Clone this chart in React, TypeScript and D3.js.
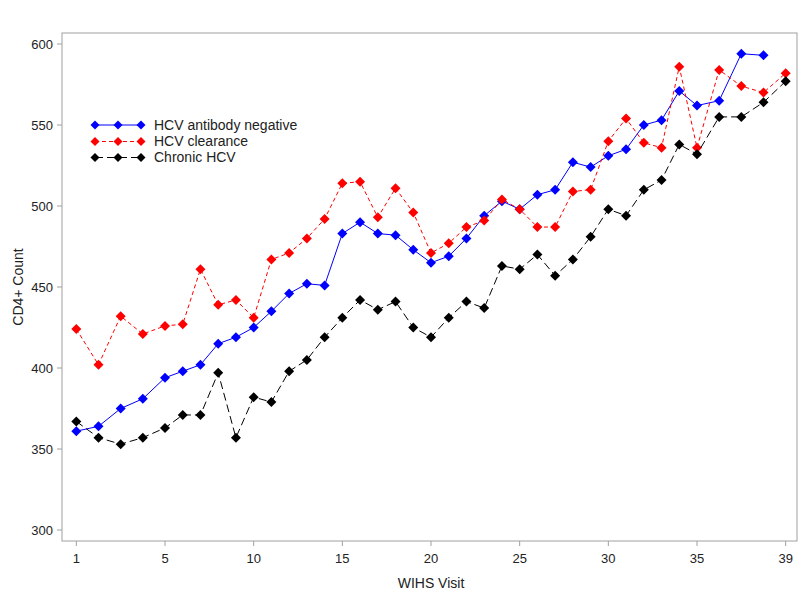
import React from "react";
import * as d3 from "d3";

const visits = [1,2,3,4,5,6,7,8,9,10,11,12,13,14,15,16,17,18,19,20,21,22,23,24,25,26,27,28,29,30,31,32,33,34,35,36,37,38,39];
const xTickValues = [1,5,10,15,20,25,30,35,39];
const yTickValues = [300,350,400,450,500,550,600];

const hcvNegative = [361,364,375,381,394,398,402,415,419,425,435,446,452,451,483,490,483,482,473,465,469,480,494,503,498,507,510,527,524,531,535,550,553,571,562,565,594,593];
const hcvClearance = [424,402,432,421,426,427,461,439,442,431,467,471,480,492,514,515,493,511,496,471,477,487,491,504,498,487,487,509,510,540,554,539,536,586,536,584,574,570,582];
const chronicHcv = [367,357,353,357,363,371,371,397,357,382,379,398,405,419,431,442,436,441,425,419,431,441,437,463,461,470,457,467,481,498,494,510,516,538,532,555,555,564,577];

const seriesNames = ["HCV antibody negative", "HCV clearance", "Chronic HCV"];
const seriesColors = ["#0000ff", "#ff0000", "#000000"];
const seriesDash = ["none", "4,3", "8,4"];

const FONT = "Liberation Sans, Arial, sans-serif";

export default function App() {
  const W = 800, H = 600;
  const left = 62, right = 797, top = 33, bottom = 541;
  const u = (697 - 165) / 30;
  // axis spreads visits 1-5 and 35-39 over the same width as 5 visits
  const x = d3.scaleLinear().domain([1, 5, 35, 39]).range([165 - 5 * u, 165, 697, 697 + 5 * u]);
  const y = d3.scaleLinear().domain([300, 600]).range([530, 44]);

  const all = [hcvNegative, hcvClearance, chronicHcv];
  const line = d3.line<number>().x((_, i) => x(visits[i])).y((d) => y(d));
  const diamond = (cx: number, cy: number, r = 5) =>
    `M${cx},${cy - r}L${cx + r},${cy}L${cx},${cy + r}L${cx - r},${cy}Z`;

  const legendX = [95, 118, 141];
  const legendY = [125, 141.5, 157.5];

  return (
    <svg width={W} height={H} style={{ display: "block", position: "absolute", left: 0, top: 0 }} fontFamily={FONT}>
      <rect x={0} y={0} width={W} height={H} fill="#fff" />
      <rect x={left} y={top} width={right - left} height={bottom - top} fill="none" stroke="#a0a0a0" strokeWidth={1} />
      {yTickValues.map((t) => (
        <g key={"y" + t}>
          <line x1={left - 5} x2={left} y1={y(t)} y2={y(t)} stroke="#a0a0a0" />
          <text x={left - 9} y={y(t)} dy="0.35em" textAnchor="end" fontSize={13} fill="#222">{t}</text>
        </g>
      ))}
      {xTickValues.map((t) => (
        <g key={"x" + t}>
          <line x1={x(t)} x2={x(t)} y1={bottom} y2={bottom + 5} stroke="#a0a0a0" />
          <text x={x(t)} y={bottom + 17} dy="0.35em" textAnchor="middle" fontSize={13} fill="#222">{t}</text>
        </g>
      ))}
      <text x={431} y={583} dy="0.35em" textAnchor="middle" fontSize={14} fill="#222">WIHS Visit</text>
      <text transform={`translate(18,287) rotate(-90)`} dy="0.35em" textAnchor="middle" fontSize={14} fill="#222">CD4+ Count</text>

      {all.map((vals, s) => (
        <g key={"s" + s}>
          <path d={line(vals) || ""} fill="none" stroke={seriesColors[s]} strokeWidth={1} strokeDasharray={seriesDash[s]} />
          {vals.map((v, i) => (
            <path key={i} d={diamond(x(visits[i]), y(v))} fill={seriesColors[s]} />
          ))}
        </g>
      ))}

      {seriesNames.map((name, s) => (
        <g key={"l" + s}>
          <line x1={legendX[0]} x2={legendX[2]} y1={legendY[s]} y2={legendY[s]} stroke={seriesColors[s]} strokeWidth={1} strokeDasharray={seriesDash[s]} />
          {legendX.map((lx) => (
            <path key={lx} d={diamond(lx, legendY[s], 4.5)} fill={seriesColors[s]} />
          ))}
          <text x={154} y={legendY[s]} dy="0.35em" fontSize={14} fill="#222">{name}</text>
        </g>
      ))}
    </svg>
  );
}
